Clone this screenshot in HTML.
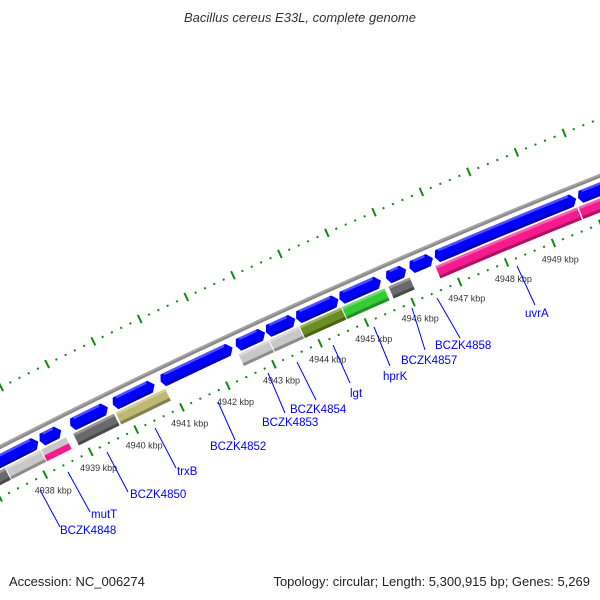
<!DOCTYPE html>
<html><head><meta charset="utf-8"><style>
html,body{margin:0;padding:0;background:#fff;width:600px;height:600px;overflow:hidden;}
svg{display:block;font-family:"Liberation Sans",sans-serif;overflow:hidden;}
</style></head><body>
<svg id="map" width="600" height="600" viewBox="0 0 600 600" xmlns="http://www.w3.org/2000/svg">
<defs><clipPath id="frame"><rect width="600" height="600"/></clipPath></defs>
<rect width="600" height="600" fill="#fff"/>
<g clip-path="url(#frame)">
<g id="rings"></g>
<g id="feats"></g>
<g id="kbp"></g>
</g>
<g stroke="#0000ff" stroke-width="1" font-size="11.5" fill="#0000ff">
<line x1="40" y1="490" x2="60" y2="527"/>
<text x="60" y="534" stroke="none">BCZK4848</text>
<line x1="68" y1="472" x2="90" y2="512"/>
<text x="91" y="518" stroke="none">mutT</text>
<line x1="107" y1="452" x2="128" y2="492"/>
<text x="130" y="498" stroke="none">BCZK4850</text>
<line x1="155" y1="428" x2="176" y2="468"/>
<text x="177" y="475" stroke="none">trxB</text>
<line x1="218" y1="402" x2="235" y2="440"/>
<text x="210" y="450" stroke="none">BCZK4852</text>
<line x1="268" y1="373" x2="285" y2="413"/>
<text x="262" y="426" stroke="none">BCZK4853</text>
<line x1="297" y1="362" x2="316" y2="400"/>
<text x="290" y="413" stroke="none">BCZK4854</text>
<line x1="333" y1="345" x2="350" y2="383"/>
<text x="350" y="397" stroke="none">lgt</text>
<line x1="374" y1="327" x2="390" y2="366"/>
<text x="383" y="380" stroke="none">hprK</text>
<line x1="412" y1="308" x2="425" y2="350"/>
<text x="401" y="364" stroke="none">BCZK4857</text>
<line x1="437" y1="298" x2="460" y2="338"/>
<text x="435" y="349" stroke="none">BCZK4858</text>
<line x1="517" y1="266" x2="535" y2="305"/>
<text x="525" y="317" stroke="none">uvrA</text>
</g>
<text x="300" y="22" text-anchor="middle" font-size="13" font-style="italic" fill="#333">Bacillus cereus E33L, complete genome</text>
<text x="9" y="586" font-size="13" fill="#222">Accession: NC_006274</text>
<text x="590" y="586" text-anchor="end" font-size="13" fill="#222">Topology: circular; Length: 5,300,915 bp; Genes: 5,269</text>
</svg>
<script>
// Data (kbp positions)
const kbpTicks=[4938,4939,4940,4941,4942,4943,4944,4945,4946,4947,4948,4949];
const fwdStart=[4930,4938.2,4938.87,4939.80,4940.84,4942.47,4943.12,4943.77,4944.70,4945.70,4946.20,4946.74,4949.78];
const fwdEnd=[4938.17,4938.67,4939.69,4940.71,4942.40,4943.10,4943.75,4944.68,4945.59,4946.13,4946.70,4949.74,4958];
const revStart=[4930,4937.37,4938.15,4938.85,4939.78,4942.45,4943.12,4943.77,4944.68,4945.68,4946.68,4949.72];
const revEnd=[4937.35,4938.13,4938.69,4939.74,4940.86,4943.10,4943.75,4944.66,4945.59,4946.13,4949.69,4958];
const revColor=["#6a6a6a","#c8c8c8","split","#6a6a6a","#bdb873","#c8c8c8","#c8c8c8","#6b8e23","#33cc33","#6a6a6a","#f51b8f","#f51b8f"];

const NS="http://www.w3.org/2000/svg";
const cx=3207, cy=6740;
const A0=Math.atan2(490-cy,53-cx), A1=Math.atan2(259-cy,560-cx);
const DA=(A1-A0)/11;
function ang(k){return A0+(k-4938)*DA;}
function P(r,a){return (cx+r*Math.cos(a)).toFixed(2)+","+(cy+r*Math.sin(a)).toFixed(2);}
const R_BB=7063,F_OUT=7057,F_IN=7044,RV_OUT=7042,RV_IN=7029,R_IN=7018,R_OUT=7116,R_LAB=7000;

function mk(tag,parent,attrs){const e=document.createElementNS(NS,tag);for(const k in attrs)e.setAttribute(k,attrs[k]);parent.appendChild(e);return e;}
function sector(r1,r2,a1,a2){return "M"+P(r2,a1)+" A"+r2+" "+r2+" 0 0 1 "+P(r2,a2)+" L"+P(r1,a2)+" A"+r1+" "+r1+" 0 0 0 "+P(r1,a1)+" Z";}

const rings=document.getElementById('rings');
let bb=mk('circle',rings,{cx:cx,cy:cy,r:R_BB,fill:"none",stroke:"#8a8a8a","stroke-width":4});


let bb2=mk('circle',rings,{cx:cx,cy:cy,r:R_BB+1,fill:"none",stroke:"#a8a8a8","stroke-width":1.5});


[R_IN,R_OUT].forEach(function(rr,ri){
  for(let i=4930*5;i<=4956*5;i++){
    const k=i/5, a=ang(k), major=(i%5===0);
    const h=major?4.5:1;
    const l=mk('path',rings,{d:"M"+P(rr-h,a)+" L"+P(rr+h,a),stroke:"#138a13","stroke-width":2});
    
    
  }
});
const kg=document.getElementById('kbp');
kbpTicks.forEach(function(k){
  const a=ang(k);
  const t=mk('text',kg,{x:(cx+R_LAB*Math.cos(a)).toFixed(1),y:(cy+R_LAB*Math.sin(a)+3).toFixed(1),"text-anchor":"middle","font-size":"9",fill:"#333"});
  t.textContent=k+" kbp";
  
  
});
const fg=document.getElementById('feats');
function bands(r1,r2,a1,a2,light,dark,name){
  const h=mk('path',fg,{d:sector(r2-2.5,r2,a1,a2),fill:light});
  
  
  const d=mk('path',fg,{d:sector(r1,r1+3,a1,a2),fill:dark});
  
  
}
for(let i=0;i<fwdStart.length;i++){
  const a1=ang(fwdStart[i]), a2=ang(fwdEnd[i]);
  const tip=5/F_OUT, mid=(F_OUT+F_IN)/2;
  const d="M"+P(mid,a1)+" L"+P(F_OUT,a1+tip*0.6)+" A"+F_OUT+" "+F_OUT+" 0 0 1 "+P(F_OUT,a2-tip)+" L"+P(mid,a2)+" L"+P(F_IN,a2-tip)+" A"+F_IN+" "+F_IN+" 0 0 0 "+P(F_IN,a1+tip*0.6)+" Z";
  const p=mk('path',fg,{d:d,fill:"#0000ff"});
  
  
  bands(F_IN,F_OUT,a1+tip*1.2,a2-tip*1.4,"#5050ff","#0000b8","forward-gene");
}
function shade(c,f){const n=parseInt(c.slice(1),16);let r=n>>16,g=(n>>8)&255,b=n&255;
  if(f>0){r=r+(255-r)*f;g=g+(255-g)*f;b=b+(255-b)*f;}else{r=r*(1+f);g=g*(1+f);b=b*(1+f);}
  return "rgb("+Math.round(r)+","+Math.round(g)+","+Math.round(b)+")";}
for(let i=0;i<revStart.length;i++){
  const a1=ang(revStart[i]), a2=ang(revEnd[i]);
  if(revColor[i]==="split"){
    const m=(RV_OUT+RV_IN)/2;
    const p1=mk('path',fg,{d:sector(m,RV_OUT,a1,a2),fill:"#c8c8c8"});
    
    
    const p2=mk('path',fg,{d:sector(RV_IN,m,a1,a2),fill:"#f51b8f"});
    
    
    continue;
  }
  const p=mk('path',fg,{d:sector(RV_IN,RV_OUT,a1,a2),fill:revColor[i]});
  
  
  bands(RV_IN,RV_OUT,a1,a2,shade(revColor[i],0.3),shade(revColor[i],-0.3),"reverse-gene");
}
</script>
</body></html>
